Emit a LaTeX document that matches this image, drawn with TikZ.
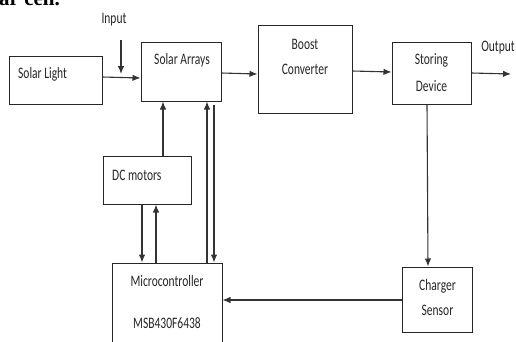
\documentclass[tikz,border=0pt]{standalone}
\usepackage{fontspec}
\setmainfont{Carlito}
\newfontfamily\narrowfont[FakeStretch=0.72]{Carlito}
\newfontfamily\capfont{Liberation Serif}
\usetikzlibrary{arrows.meta, positioning}

\begin{document}
\begin{tikzpicture}[
  x=1pt, y=-1pt,
  box/.style={draw=black!85, line width=1pt, inner sep=0pt},
  txt/.style={font=\narrowfont\fontsize{16}{25}\selectfont, inner sep=0pt, align=center, text=black!85},
  arr/.style={-{Latex[length=8pt, width=6.5pt]}, line width=1.1pt, draw=black!80}
]
  \useasboundingbox (0,0) rectangle (516,341);

  % caption fragment at the top
  \node[font=\capfont\bfseries\fontsize{21}{24}\selectfont, anchor=base west, inner sep=0pt] (caption) at (-1,5) {ar cell.};

  % blocks
  \node[box, minimum width=93pt, minimum height=48pt] (light) at (55.5,80) {};
  \node[txt, anchor=west] (lighttxt) at (18,74) {Solar Light};

  \node[box, minimum width=80pt, minimum height=59pt] (arrays) at (181,71.5) {};
  \node[txt] (arraystxt) at (182,60) {Solar Arrays};

  \node[box, minimum width=94pt, minimum height=88pt] (boost) at (305,69) {};
  \node[txt] (boosttxt) at (305,57) {Boost\\Converter};

  \node[box, minimum width=79pt, minimum height=62pt] (store) at (431.5,73) {};
  \node[txt] (storetxt) at (431.5,73) {Storing\\[2pt]Device};

  \node[box, minimum width=88pt, minimum height=48pt] (motors) at (147,180) {};
  \node[txt, anchor=west] (motorstxt) at (112,175) {DC motors};

  \node[box, minimum width=70pt, minimum height=65pt] (sensor) at (437,299.5) {};
  \node[txt] (sensortxt) at (437.5,297.5) {Charger\\Sensor};

  \node[box, minimum width=110pt, minimum height=100pt] (micro) at (167,313) {};
  \node[txt] (microtxt) at (167,302) {Microcontroller\\[17pt]MSB430F6438};

  % outer labels
  \node[txt] (input) at (114,20) {Input};
  \node[txt] (output) at (498,48) {Output};
  \coordinate (inputtop) at (121,40);
  \coordinate (inputend) at (121,74);
  \coordinate (outend) at (511,74);

  % connectors
  \draw[arr] (inputtop) -- (inputend);
  \draw[arr] (light.east |- 0,77) -- (arrays.west |- 0,78);
  \draw[arr] (arrays.east |- 0,73) -- (boost.west |- 0,74);
  \draw[arr] (boost.east |- 0,71) -- (store.west |- 0,72);
  \draw[arr] (store.east |- 0,73) -- (outend);
  \draw[arr] (store.south -| 427,0) -- (sensor.north -| 428,0);
  \draw[arr] (sensor.west |- 0,300) -- (micro.east |- 0,300);
  \draw[arr] (motors.north -| 163,0) -- (arrays.south -| 163,0);
  \draw[arr] (motors.south -| 142,0) -- (micro.north -| 142,0);
  \draw[arr] (micro.north -| 156,0) -- (motors.south -| 156,0);
  \draw[arr] (micro.north -| 207,0) -- (arrays.south -| 207,0);
  \draw[arr] (arrays.south -| 214,0) ++(0,3) -- (micro.north -| 214,0);
\end{tikzpicture}
\end{document}
